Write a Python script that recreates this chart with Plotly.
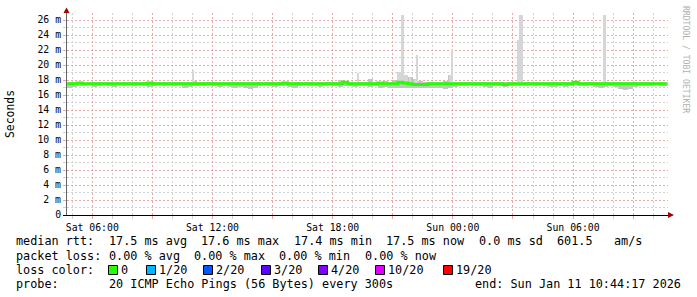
import plotly.graph_objects as go
import pandas as pd

# ---------------- data ----------------
START = "2026-01-10 04:44:17"
END = "2026-01-11 10:44:17"

# 15-minute slots for the smoke band and median (slot start times)
slot_start = "2026-01-10 04:45"
n_slots = 120

smoke_lo = [17.0, 17.1, 17.2, 17.2, 17.3, 17.1, 17.2, 17.3, 17.2, 17.1,
            17.3, 17.2, 17.3, 17.2, 17.3, 17.2, 17.1, 17.2, 17.3, 17.2,
            17.3, 17.2, 17.3, 17.0, 17.1, 17.2, 17.2, 17.2, 17.3, 17.2,
            17.1, 17.2, 17.1, 17.0, 17.1, 16.9, 16.8, 17.0, 17.2, 17.3,
            17.2, 17.1, 17.2, 17.2, 17.1, 17.0, 17.2, 17.3, 17.2, 17.2,
            17.1, 17.2, 17.3, 17.2, 17.1, 17.2, 17.2, 17.1, 17.2, 17.2,
            17.1, 17.2, 17.0, 17.1, 17.0, 17.0, 17.0, 16.9, 16.9, 17.0,
            16.9, 16.9, 17.0, 16.9, 16.9, 16.8, 17.0, 17.1, 17.2, 17.2,
            17.3, 17.2, 17.2, 17.1, 16.9, 17.2, 17.2, 17.1, 17.2, 17.2,
            17.2, 17.2, 17.3, 17.2, 17.3, 17.2, 17.1, 17.1, 17.2, 17.1,
            17.2, 17.3, 17.2, 17.2, 17.3, 17.1, 17.0, 17.1, 17.2, 17.1,
            16.8, 16.7, 16.8, 17.1, 17.2, 17.2, 17.2, 17.3, 17.2, 17.2]

smoke_hi = [17.7, 17.7, 17.7, 17.7, 17.7, 17.7, 17.7, 17.7, 17.7, 17.7,
            17.7, 17.7, 17.7, 17.7, 17.7, 17.7, 17.7, 17.7, 17.7, 17.7,
            17.7, 17.7, 17.7, 17.7, 17.8, 17.9, 17.7, 17.7, 17.7, 17.7,
            17.7, 17.7, 17.8, 17.7, 17.7, 17.7, 17.8, 17.7, 17.7, 17.7,
            17.7, 17.7, 17.7, 17.7, 17.7, 17.7, 17.7, 17.7, 17.7, 17.7,
            17.7, 17.7, 17.7, 17.7, 18.0, 17.9, 17.7, 17.8, 17.8, 17.8,
            18.2, 17.8, 17.8, 17.9, 17.8, 18.0, 18.4, 18.6, 18.4, 18.2,
            17.9, 17.8, 17.8, 17.8, 17.8, 17.9, 18.7, 17.8, 17.7, 17.7,
            17.7, 17.7, 17.7, 17.7, 17.7, 17.7, 17.7, 17.8, 17.7, 17.7,
            17.8, 17.7, 17.7, 17.7, 17.7, 17.7, 17.7, 17.7, 17.7, 17.7,
            17.7, 17.8, 17.7, 17.7, 17.7, 17.7, 17.7, 17.7, 17.7, 17.7,
            17.7, 17.7, 17.7, 17.7, 17.7, 17.7, 17.7, 17.7, 17.7, 17.7]

median_rtt = [17.5, 17.5, 17.6, 17.5, 17.5, 17.5, 17.5, 17.5, 17.5, 17.5,
              17.5, 17.5, 17.5, 17.5, 17.5, 17.5, 17.6, 17.5, 17.5, 17.5,
              17.5, 17.5, 17.5, 17.5, 17.5, 17.5, 17.5, 17.5, 17.5, 17.5,
              17.5, 17.5, 17.5, 17.5, 17.5, 17.5, 17.5, 17.5, 17.5, 17.5,
              17.5, 17.5, 17.5, 17.6, 17.5, 17.5, 17.5, 17.5, 17.5, 17.5,
              17.5, 17.5, 17.5, 17.5, 17.5, 17.7, 17.5, 17.5, 17.5, 17.5,
              17.5, 17.5, 17.6, 17.5, 17.5, 17.5, 17.7, 17.6, 17.5, 17.4,
              17.4, 17.4, 17.5, 17.5, 17.5, 17.5, 17.5, 17.5, 17.5, 17.5,
              17.5, 17.5, 17.5, 17.5, 17.5, 17.5, 17.5, 17.4, 17.5, 17.5,
              17.5, 17.5, 17.5, 17.5, 17.5, 17.5, 17.5, 17.5, 17.5, 17.5,
              17.5, 17.7, 17.5, 17.5, 17.5, 17.5, 17.5, 17.5, 17.5, 17.5,
              17.5, 17.5, 17.5, 17.5, 17.5, 17.5, 17.5, 17.5, 17.5, 17.5]

# Individual 5-minute spikes in the smoke
spike_times = ["2026-01-10 11:00", "2026-01-10 19:15", "2026-01-10 21:15",
               "2026-01-10 21:20", "2026-01-10 21:25", "2026-01-10 21:30",
               "2026-01-10 21:35", "2026-01-10 21:40", "2026-01-10 21:50",
               "2026-01-10 22:05", "2026-01-10 22:10", "2026-01-10 23:50",
               "2026-01-10 23:55", "2026-01-11 03:15", "2026-01-11 03:20",
               "2026-01-11 03:25", "2026-01-11 07:30", "2026-01-11 07:35"]
spike_lo = [17.5] * 18
spike_hi = [19.4, 19.0, 19.1, 19.1, 26.7, 26.7,
            18.7, 18.7, 18.4, 18.2, 21.3, 18.7,
            22.0, 23.4, 26.7, 26.7, 26.7, 26.7]

x_tick_times = ["2026-01-10 06:00", "2026-01-10 09:00", "2026-01-10 12:00",
                "2026-01-10 15:00", "2026-01-10 18:00", "2026-01-10 21:00",
                "2026-01-11 00:00", "2026-01-11 03:00", "2026-01-11 06:00",
                "2026-01-11 09:00"]
x_tick_labels = ["Sat 06:00", "", "Sat 12:00", "", "Sat 18:00", "",
                 "Sun 00:00", "", "Sun 06:00", ""]
y_tick_vals = [0, 2, 4, 6, 8, 10, 12, 14, 16, 18, 20, 22, 24, 26]
y_tick_labels = ["0", "2 m", "4 m", "6 m", "8 m", "10 m", "12 m", "14 m",
                 "16 m", "18 m", "20 m", "22 m", "24 m", "26 m"]

# legend rows: (column, text)
row_rtt = [(0, "median rtt:"), (13, "17.5 ms avg"), (26, "17.6 ms max"),
           (39, "17.4 ms min"), (52, "17.5 ms now"), (65, "0.0 ms sd"),
           (76, "601.5"), (84, "am/s")]
row_loss = [(0, "packet loss:"), (13, "0.00 % avg"), (25, "0.00 % max"),
            (37, "0.00 % min"), (49, "0.00 % now")]
row_probe = [(0, "probe:"), (13, "20 ICMP Echo Pings (56 Bytes) every 300s")]
end_text = "end: Sun Jan 11 10:44:17 2026"

loss_labels = ["0", "1/20", "2/20", "3/20", "4/20", "10/20", "19/20"]
loss_colors = ["#26ff00", "#00b8ff", "#0059ff", "#5e00ff", "#7e00ff",
               "#dd00ff", "#ff0000"]

# ---------------- layout constants ----------------
W, H = 697, 297
L, R, T, B = 67, 668, 13, 215
FONT = "DejaVu Sans Mono"
MGRID = "#e6a8a8"
GRID = "#d2d2d2"
DASH = "2px,2px"
CH = 7.12          # legend character advance (px)
LEG_X0 = 16
LEG_SIZE = 11.8


def fx(px):
    return (px - L) / (R - L)


def fy(py):
    return (B - py) / (B - T)


slots = pd.date_range(slot_start, periods=n_slots, freq="15min")
slot_ms = 15 * 60 * 1000
spike_ms = 5 * 60 * 1000

fig = go.Figure()

fig.add_trace(go.Bar(
    x=slots, y=[h - l for h, l in zip(smoke_hi, smoke_lo)], base=smoke_lo,
    width=slot_ms, offset=0, marker=dict(color="#c4c4c4", line=dict(width=0)),
    hoverinfo="skip", showlegend=False))

fig.add_trace(go.Bar(
    x=pd.to_datetime(spike_times), y=[h - l for h, l in zip(spike_hi, spike_lo)],
    base=spike_lo, width=spike_ms, offset=0,
    marker=dict(color="#d6d6d6", line=dict(width=0)),
    hoverinfo="skip", showlegend=False))

line_x = list(slots) + [slots[-1] + pd.Timedelta(minutes=10)]
line_y = median_rtt + [median_rtt[-1]]
fig.add_trace(go.Scatter(
    x=line_x, y=line_y, mode="lines", line=dict(color="#26ff00", width=3, shape="hv"),
    hoverinfo="skip", showlegend=False))

fig.update_layout(
    width=W, height=H,
    margin=dict(l=L, r=W - R, t=T, b=H - B),
    paper_bgcolor="white", plot_bgcolor="white",
    barmode="overlay", bargap=0,
    font=dict(family=FONT, size=10, color="black"),
    xaxis=dict(
        type="date", range=[START, END],
        tickmode="array", tickvals=x_tick_times, ticktext=x_tick_labels,
        showgrid=True, gridcolor=MGRID, griddash=DASH, gridwidth=1,
        ticks="outside", ticklen=3, tickcolor=MGRID,
        tickfont=dict(family=FONT, size=9.8, color="#000"),
        minor=dict(dtick=3600000, tick0="2026-01-10 00:00", showgrid=True,
                   gridcolor=GRID, griddash=DASH, ticks="outside", ticklen=3,
                   tickcolor=GRID),
        showline=True, linecolor="#000", linewidth=1,
        zeroline=False, fixedrange=True,
    ),
    yaxis=dict(
        range=[0, (B - T) / 7.5],
        tickmode="array", tickvals=y_tick_vals, ticktext=y_tick_labels,
        showgrid=True, gridcolor=MGRID, griddash=DASH, gridwidth=1,
        ticks="outside", ticklen=3, tickcolor=MGRID,
        tickfont=dict(family=FONT, size=9.8, color="#000"),
        minor=dict(dtick=1, showgrid=True, gridcolor=GRID, griddash=DASH,
                   ticks="outside", ticklen=3, tickcolor=GRID),
        showline=True, linecolor="#666", linewidth=1,
        zeroline=False, fixedrange=True,
    ),
)

shapes = []
# arrows
shapes.append(dict(type="path", xref="paper", yref="paper",
                   path=f"M {fx(63.5)},{fy(13)} L {fx(66.5)},{fy(7.5)} L {fx(69.5)},{fy(13)} Z",
                   fillcolor="#a00000", line=dict(width=0)))
shapes.append(dict(type="path", xref="paper", yref="paper",
                   path=f"M {fx(668)},{fy(212)} L {fx(674)},{fy(215)} L {fx(668)},{fy(218)} Z",
                   fillcolor="#a00000", line=dict(width=0)))
# x axis line extension to the left
shapes.append(dict(type="line", xref="paper", yref="paper",
                   x0=fx(63), x1=fx(668), y0=fy(215.5), y1=fy(215.5),
                   line=dict(color="#000", width=1)))

annotations = []


def txt(x, y, s, size=LEG_SIZE, color="#000", angle=0, xanchor="left", yanchor="middle"):
    annotations.append(dict(
        xref="paper", yref="paper", x=fx(x), y=fy(y), text=s,
        showarrow=False, xanchor=xanchor, yanchor=yanchor, textangle=angle,
        font=dict(family=FONT, size=size, color=color), borderpad=0, borderwidth=0))


# y title and watermark
txt(10, 114, "Seconds", size=11.4, angle=-90, xanchor="center")
txt(686, 59, "RRDTOOL / TOBI OETIKER", size=8.1, color="#b0b0b0", angle=90, xanchor="center")

# legend rows
r1, r2, r3, r4 = 241.5, 255.5, 269.5, 283.5
for col, s in row_rtt:
    txt(LEG_X0 + col * CH, r1, s)
for col, s in row_loss:
    txt(LEG_X0 + col * CH, r2, s)
for col, s in row_probe:
    txt(LEG_X0 + col * CH, r4, s)
txt(681, r4, end_text, xanchor="right")

txt(LEG_X0, r3, "loss color:")
box_x = [108, 146, 203, 261, 318, 375, 443]
for bx, lab, col in zip(box_x, loss_labels, loss_colors):
    shapes.append(dict(type="rect", xref="paper", yref="paper",
                       x0=fx(bx + 0.5), x1=fx(bx + 9.5), y0=fy(274.5), y1=fy(265.5),
                       fillcolor=col, line=dict(color="#000", width=1)))
    txt(bx + 13, r3, lab)

fig.update_layout(shapes=shapes, annotations=annotations)

fig.write_html("out.html")
